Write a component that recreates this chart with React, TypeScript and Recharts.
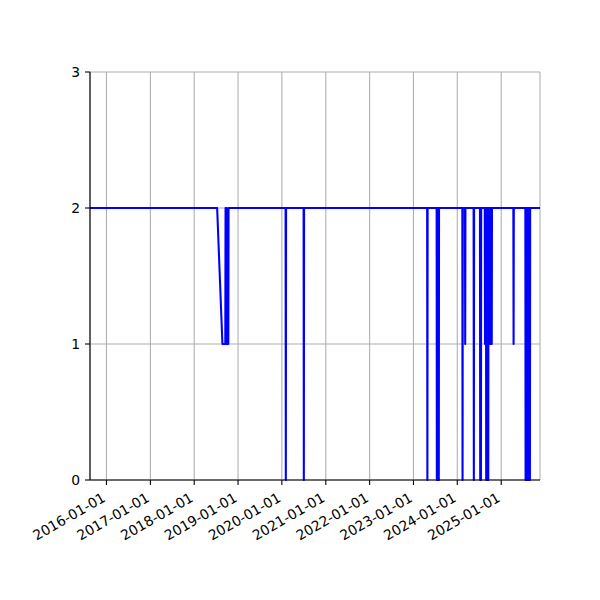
import { LineChart, Line, XAxis, YAxis, CartesianGrid } from "recharts";

const BLUE = "#0000ff";
const GRID = "#b0b0b0";
const FONT = "DejaVu Sans, sans-serif";

// change points of the step-like series (value 2 = normal, dips to 1 / 0)
const dates = [
  "2015-08-17",
  "2018-07-11", "2018-08-24", "2018-09-17", "2018-09-19", "2018-09-28", "2018-09-30", "2018-10-12", "2018-10-14",
  "2020-02-01", "2020-02-03", "2020-02-05",
  "2020-06-30", "2020-07-02", "2020-07-04",
  "2023-04-25", "2023-04-27", "2023-04-29",
  "2023-07-13", "2023-07-15", "2023-07-19", "2023-07-23", "2023-07-27", "2023-07-31", "2023-08-02",
  "2024-02-12", "2024-02-14", "2024-02-16",
  "2024-03-05", "2024-03-07", "2024-03-09",
  "2024-05-16", "2024-05-18", "2024-05-20",
  "2024-07-08", "2024-07-10", "2024-07-12", "2024-07-16", "2024-07-18", "2024-07-20",
  "2024-08-17", "2024-08-19", "2024-08-22", "2024-08-25", "2024-08-27", "2024-08-29", "2024-09-01",
  "2024-09-04", "2024-09-07", "2024-09-10", "2024-09-13", "2024-09-15", "2024-09-17", "2024-09-20",
  "2024-09-23", "2024-09-26", "2024-09-29", "2024-10-02", "2024-10-05", "2024-10-08", "2024-10-11",
  "2024-10-14", "2024-10-16",
  "2025-04-12", "2025-04-14", "2025-04-16",
  "2025-07-21", "2025-07-23", "2025-07-26", "2025-07-29", "2025-08-01", "2025-08-04", "2025-08-07",
  "2025-08-10", "2025-08-13", "2025-08-16", "2025-08-19", "2025-08-22", "2025-08-25", "2025-08-28",
  "2025-08-30",
  "2025-11-20",
];
const values = [
  2,
  2, 1, 1, 2, 2, 1, 1, 2,
  2, 0, 2,
  2, 0, 2,
  2, 0, 2,
  2, 0, 2, 0, 2, 0, 2,
  2, 0, 2,
  2, 1, 2,
  2, 0, 2,
  2, 0, 2, 0, 2, 2,
  2, 1, 2, 1, 2, 0, 2,
  0, 2, 0, 2, 0, 2, 1,
  2, 1, 2, 1, 2, 1, 2,
  1, 2,
  2, 1, 2,
  2, 0, 2, 0, 2, 0, 2,
  0, 2, 0, 2, 0, 2, 0,
  2,
  2,
];

const xTickLabels = [
  "2016-01-01", "2017-01-01", "2018-01-01", "2019-01-01", "2020-01-01",
  "2021-01-01", "2022-01-01", "2023-01-01", "2024-01-01", "2025-01-01",
];
const yTicks = [0, 1, 2, 3];

const data = dates.map((d, i) => ({ t: Date.parse(d), v: values[i] }));
const xTicks = xTickLabels.map((d) => Date.parse(d));
const xDomain = [Date.parse(dates[0]), Date.parse(dates[dates.length - 1])];

function DateTick({ x, y, payload }: { x?: number; y?: number; payload?: { value: number } }) {
  if (x == null || y == null || !payload) return null;
  const label = new Date(payload.value).toISOString().slice(0, 10);
  return (
    <g transform={`translate(${x},${y + 13.5}) rotate(-30)`}>
      <text x={0} y={0} textAnchor="end" fontSize={13.9} fill="#000" fontFamily={FONT}>
        {label}
      </text>
    </g>
  );
}

export default function App() {
  return (
    <div style={{ position: "absolute", left: 0, top: 0, width: 600, height: 600, background: "#fff", fontFamily: FONT }}>
      <LineChart width={600} height={600} data={data} margin={{ top: 72, right: 60, bottom: 60, left: 50 }}>
        <CartesianGrid stroke={GRID} strokeWidth={1.1} />
        <XAxis
          dataKey="t"
          type="number"
          domain={xDomain}
          ticks={xTicks}
          height={60}
          interval={0}
          tickSize={5}
          tickLine={{ stroke: "#000", strokeWidth: 1.1 }}
          axisLine={{ stroke: "#000", strokeWidth: 1.1 }}
          tick={<DateTick />}
        />
        <XAxis
          xAxisId="top"
          orientation="top"
          dataKey="t"
          type="number"
          domain={xDomain}
          height={0}
          tick={false}
          tickLine={false}
          axisLine={{ stroke: "#000", strokeWidth: 1.1 }}
        />
        <YAxis
          domain={[0, 3]}
          ticks={yTicks}
          width={40}
          interval={0}
          tickSize={5}
          tickMargin={5}
          tickLine={{ stroke: "#000", strokeWidth: 1.1 }}
          axisLine={{ stroke: "#000", strokeWidth: 1.1 }}
          tick={{ fontSize: 13.9, fill: "#000", fontFamily: FONT }}
        />
        <YAxis
          yAxisId="right"
          orientation="right"
          domain={[0, 3]}
          width={0}
          tick={false}
          tickLine={false}
          axisLine={{ stroke: "#000", strokeWidth: 1.1 }}
        />
        <Line
          dataKey="v"
          type="linear"
          stroke={BLUE}
          strokeWidth={2.08}
          strokeLinejoin="round"
          dot={false}
          activeDot={false}
          isAnimationActive={false}
        />
      </LineChart>
    </div>
  );
}
